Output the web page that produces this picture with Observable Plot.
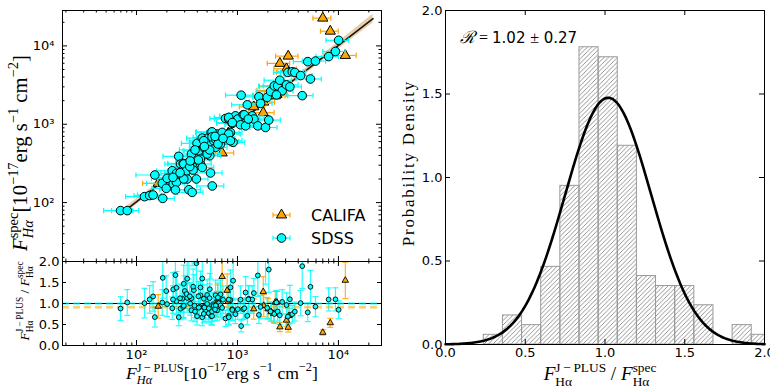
<!DOCTYPE html>
<html><head><meta charset="utf-8">
<script src="https://cdn.jsdelivr.net/npm/d3@7"></script>
<script src="https://cdn.jsdelivr.net/npm/@observablehq/plot@0.6"></script>
<style>
body{margin:0;background:#fff;}
#wrap{position:relative;width:770px;height:388px;overflow:hidden;}
#wrap svg{position:absolute;left:0;top:0;}
</style></head><body><div id="wrap"></div>
<script>
// ---------------- DATA ----------------
// SDSS galaxies: J-PLUS flux (x), spectroscopic flux (y), relative error
const sdssX = [69.5,81,120,135,146,182,152,180,201,197,226,231,249,262,273,284,290,301,318,330,356,318,350,370,376,398,392,423,430,448,464,482,501,520,532,549,541,563,576,606,629,653,679,705,762,820,852,889,906,954,1007,1072,1088,1141,1203,1252,1296,1400,1454,1591,1630,1692,1896,1969,2043,2127,2316,2500,2624,2771,3060,3158,3304,3488,3700,4220,4379,5282,4966,5920,8000,9340,10040,294,249,313,364,350,430,448,294,243,337,414,464,501,520,464,560,582,679,820,852,820,889,1170,1280,2430,380,410,560,610,640,530,470,600,230,270,340,720];
const sdssY = [79,79,119,123,125,113,225,176,204,152,255,173,181,389,311,255,316,232,200,146,135,281,311,281,397,570,200,459,311,666,417,587,506,678,397,786,239,163,587,506,750,649,713,786,1184,1165,786,1027,587,1280,1165,983,2348,1324,954,1770,1165,1280,1165,954,2239,1843,909,2202,1130,2621,3087,3087,3647,2672,3180,4585,3000,4677,4585,4180,2318,3780,6300,6400,7300,8500,11800,311,236,255,260,417,360,281,200,145,288,459,506,417,587,616,800,616,558,750,616,1220,1050,1320,1165,2370,470,350,690,640,560,470,520,700,210,240,340,660];
const sdssErr = [.32,.3,.35,.3,.3,.3,.35,.3,.3,.28,.3,.3,.28,.3,.3,.28,.3,.28,.3,.3,.28,.3,.3,.28,.3,.3,.3,.3,.28,.3,.3,.3,.28,.3,.28,.3,.3,.3,.28,.3,.3,.28,.3,.3,.3,.28,.3,.3,.3,.3,.28,.3,.3,.28,.3,.3,.28,.3,.28,.3,.28,.3,.3,.28,.3,.28,.3,.28,.3,.28,.3,.28,.3,.28,.28,.3,.28,.28,.28,.26,.25,.25,.25,.3,.3,.28,.3,.3,.28,.3,.3,.3,.28,.3,.28,.3,.3,.28,.3,.3,.28,.3,.3,.28,.3,.28,.3,.28,.3,.3,.3,.28,.3,.3,.28,.3,.3,.3,.28,.3];
// CALIFA galaxies
const califaX = [164,620,637,705,790,810,1450,1800,1820,2010,2160,2290,2370,2460,2630,3060,3180,3240,7000,8300,11700];
const califaY = [176,626,574,430,603,771,1667,1406,1916,2310,2700,3013,2300,2390,5980,5100,7400,4560,22600,15400,7550];
const califaErr = [.3,.3,.3,.3,.3,.28,.28,.28,.28,.28,.28,.28,.25,.25,.25,.25,.25,.25,.2,.2,.28];
// fit line and its uncertainty band (top panel)
const fitX = [80, 22000];
const fitY = [82, 22300];
const bandX = [80, 700, 22000];
const bandLo = [74, 685, 19600];
const bandHi = [90, 715, 25400];
// mean ratios (bottom panel dashed lines)
const sdssMeanRatio = 1.0;
const califaMeanRatio = 0.91;
// histogram of ratios (right panel)
const histLeft = [0.24,0.36,0.48,0.60,0.72,0.84,0.96,1.08,1.20,1.32,1.44,1.56,1.68,1.80,1.92];
const histDensity = [0.058,0.174,0.116,0.465,0.95,1.78,1.72,1.19,0.41,0.35,0.35,0.235,0,0.116,0.058];
const binWidth = 0.12;
const fitMu = 1.02, fitSigma = 0.27;
// ticks
const logTicks = [100, 1000, 10000];
const logTickLabels = ["10²", "10³", "10⁴"];
const ratioTicks = [0, 0.5, 1, 1.5, 2];
const ratioTickLabels = ["0.0", "0.5", "1.0", "1.5", "2.0"];

// ---------------- TABLES ----------------
const mk = (X, Y, E) => X.slice(0, Math.min(X.length, Y.length, E.length)).map((x, i) => {
  const y = Y[i], e = E[i], r = x / y;
  return {x, y, e, r, xlo: x * (1 - e), xhi: x * (1 + e), rlo: r * (1 - e), rhi: r * (1 + e)};
});
const sdss = mk(sdssX, sdssY, sdssErr);
const califa = mk(califaX, califaY, califaErr);
const fit = fitX.map((x, i) => ({x, y: fitY[i]}));
const band = bandX.map((x, i) => ({x, lo: bandLo[i], hi: bandHi[i]}));
const hist = histLeft.map((x1, i) => ({x1, x2: x1 + binWidth, d: histDensity[i]}));
const gauss = d3.range(0, 2.0001, 0.01).map(x => ({x, y: Math.exp(-0.5 * ((x - fitMu) / fitSigma) ** 2) / (fitSigma * Math.sqrt(2 * Math.PI))}));
const minorLog = [];
for (const dec of [10, 100, 1000, 10000]) for (const m of [2,3,4,5,6,7,8,9]) minorLog.push(m * dec);

// ---------------- LAYOUT ----------------
const W = 770, H = 388;
const TL = {l: 62, r: 381, t: 10, b: 261};
const BL = {l: 62, r: 381, t: 261, b: 345};
const RP = {l: 445, r: 764, t: 10, b: 344};
const margins = f => ({marginLeft: f.l, marginRight: W - f.r, marginTop: f.t, marginBottom: H - f.b});
const CYAN = "#00FFFF", ORANGE = "#FFA500";
const SANS = "DejaVu Sans";
const vCap = {draw(ctx, size){ const h = Math.sqrt(size / Math.PI); ctx.moveTo(0, -h); ctx.lineTo(0, h); }};
const hCap = {draw(ctx, size){ const h = Math.sqrt(size / Math.PI); ctx.moveTo(-h, 0); ctx.lineTo(h, 0); }};

function xTicks(values, len, f) {
  const fh = f.b - f.t;
  return [
    Plot.tickX(values, {x: d => d, insetTop: fh - len, stroke: "black"}),
    Plot.tickX(values, {x: d => d, insetBottom: fh - len, stroke: "black"})
  ];
}
function yTicks(values, len, f) {
  const fw = f.r - f.l;
  return [
    Plot.tickY(values, {y: d => d, insetRight: fw - len, stroke: "black"}),
    Plot.tickY(values, {y: d => d, insetLeft: fw - len, stroke: "black"})
  ];
}
const inDom = (lo, hi) => v => v > lo && v < hi;

const wrap = document.getElementById("wrap");

// ---------------- TOP-LEFT ----------------
const xDom = [18.5, 26700], yDom = [17.7, 28300];
function topErr(data, color) {
  return [
    Plot.ruleY(data, {y: "y", x1: "xlo", x2: "xhi", stroke: color, strokeWidth: 1.2}),
    Plot.dot(data, {x: "xlo", y: "y", symbol: vCap, r: 2.6, stroke: color, fill: "none", strokeWidth: 1.2}),
    Plot.dot(data, {x: "xhi", y: "y", symbol: vCap, r: 2.6, stroke: color, fill: "none", strokeWidth: 1.2})
  ];
}
const topPlot = Plot.plot({
  width: W, height: H, ...margins(TL),
  style: {background: "transparent", overflow: "visible"},
  x: {type: "log", domain: xDom, axis: null},
  y: {type: "log", domain: yDom, axis: null},
  marks: [
    Plot.areaY(band, {x: "x", y1: "lo", y2: "hi", fill: "#d9b47c", fillOpacity: 0.65}),
    Plot.line(fit, {x: "x", y: "y", stroke: "#1a1208", strokeWidth: 1.5}),
    ...topErr(califa, ORANGE),
    Plot.dot(califa, {x: "x", y: "y", symbol: "triangle", r: 3.8, fill: ORANGE, stroke: "black", strokeWidth: 1}),
    ...topErr(sdss, CYAN),
    Plot.dot(sdss, {x: "x", y: "y", r: 4.3, fill: CYAN, stroke: "black", strokeWidth: 1}),
    ...xTicks(logTicks, 5, TL), ...xTicks(minorLog.filter(inDom(...xDom)), 2.5, TL),
    ...yTicks(logTicks, 5, TL), ...yTicks(minorLog.filter(inDom(...yDom)), 2.5, TL),
    Plot.text(logTicks, {y: d => d, text: (d, i) => logTickLabels[i], frameAnchor: "left", textAnchor: "end", dx: -8, fontSize: 13, fontFamily: SANS, fill: "black"}),
    Plot.frame({stroke: "black"})
  ]
});
wrap.appendChild(topPlot);

// ---------------- BOTTOM-LEFT ----------------
function botErr(data, color) {
  return [
    Plot.ruleX(data, {x: "x", y1: "rlo", y2: "rhi", stroke: color, strokeWidth: 1.2, strokeOpacity: 0.85, clip: true}),
    Plot.dot(data, {x: "x", y: "rlo", symbol: hCap, r: 3, stroke: color, fill: "none", strokeWidth: 1.2, strokeOpacity: 0.85, clip: true}),
    Plot.dot(data, {x: "x", y: "rhi", symbol: hCap, r: 3, stroke: color, fill: "none", strokeWidth: 1.2, strokeOpacity: 0.85, clip: true})
  ];
}
const botPlot = Plot.plot({
  width: W, height: H, ...margins(BL),
  style: {background: "transparent", overflow: "visible"},
  x: {type: "log", domain: xDom, axis: null},
  y: {domain: [0, 2], axis: null},
  marks: [
    ...botErr(califa, ORANGE),
    ...botErr(sdss, CYAN),
    Plot.ruleY([1], {stroke: "black", strokeWidth: 1.2}),
    Plot.ruleY([califaMeanRatio], {stroke: ORANGE, strokeOpacity: 0.55, strokeWidth: 2.5, strokeDasharray: "7,4"}),
    Plot.ruleY([sdssMeanRatio], {stroke: CYAN, strokeOpacity: 0.6, strokeWidth: 2.5, strokeDasharray: "7,4"}),
    Plot.dot(califa, {x: "x", y: "r", symbol: "triangle", r: 2.4, fill: ORANGE, stroke: "black", strokeWidth: 0.9, clip: true}),
    Plot.dot(sdss, {x: "x", y: "r", r: 2.4, fill: CYAN, stroke: "black", strokeWidth: 0.9, clip: true}),
    ...xTicks(logTicks, 5, BL), ...xTicks(minorLog.filter(inDom(...xDom)), 2.5, BL),
    ...yTicks(ratioTicks, 4, BL),
    Plot.text(logTicks, {x: d => d, text: (d, i) => logTickLabels[i], frameAnchor: "bottom", lineAnchor: "top", dy: 4, fontSize: 13, fontFamily: SANS, fill: "black"}),
    Plot.text(ratioTicks, {y: d => d, text: (d, i) => ratioTickLabels[i], frameAnchor: "left", textAnchor: "end", dx: -3, fontSize: 13, fontFamily: SANS, fill: "black"}),
    Plot.frame({stroke: "black"})
  ]
});
wrap.appendChild(botPlot);

// ---------------- RIGHT ----------------
const rightPlot = Plot.plot({
  width: W, height: H, ...margins(RP),
  style: {background: "transparent", overflow: "visible"},
  x: {domain: [0, 2], axis: null},
  y: {domain: [0, 2], axis: null},
  marks: [
    Plot.rect(hist, {x1: "x1", x2: "x2", y1: () => 0, y2: "d", fill: "url(#hatch)", stroke: "#9a9a9a", strokeWidth: 1, clip: true}),
    Plot.line(gauss, {x: "x", y: "y", stroke: "black", strokeWidth: 2.6}),
    ...xTicks(ratioTicks, 5, RP),
    ...yTicks(ratioTicks, 5, RP),
    Plot.text(ratioTicks, {x: d => d, text: (d, i) => ratioTickLabels[i], frameAnchor: "bottom", lineAnchor: "top", dy: 3, fontSize: 13, fontFamily: SANS, fill: "black"}),
    Plot.text(ratioTicks, {y: d => d, text: (d, i) => ratioTickLabels[i], frameAnchor: "left", textAnchor: "end", dx: -3, fontSize: 13, fontFamily: SANS, fill: "black"}),
    Plot.frame({stroke: "black"})
  ]
});
wrap.appendChild(rightPlot);
const defs = d3.select(rightPlot).insert("defs", ":first-child");
const pat = defs.append("pattern").attr("id", "hatch").attr("patternUnits", "userSpaceOnUse").attr("width", 4.5).attr("height", 4.5);
pat.append("path").attr("d", "M-1,1 L1,-1 M0,4.5 L4.5,0 M3.5,5.5 L5.5,3.5").attr("stroke", "#7a7a7a").attr("stroke-width", 0.8);

// ---------------- OVERLAY: labels & legend ----------------
const ov = d3.select(wrap).append("svg").attr("width", W).attr("height", H);
const SERIF = "Liberation Serif, DejaVu Serif, serif";

// builds a label; if target is given, letter-spacing (spread) or size (fit) adjusts to reach that length
function mathLabel({x, y, rotate = 0, target, parts, size = 16, spread = false}) {
  function build(fs, ls) {
    const g = ov.append("g").attr("transform", `translate(${x},${y}) rotate(${rotate})`);
    const t = g.append("text").attr("text-anchor", "middle").attr("font-family", SERIF)
      .attr("font-size", fs).attr("letter-spacing", ls).style("white-space", "pre").attr("fill", "black");
    let base = 0, pend = 0;
    const supDy = -0.42 * fs, subDy = 0.3 * fs;
    for (const p of parts) {
      if (p.stack) {
        const sup = t.append("tspan").attr("font-size", 0.7 * fs).attr("dx", pend).attr("dy", supDy - base).text(p.sup);
        const supLen = sup.node().getComputedTextLength();
        const sub = t.append("tspan").attr("font-size", 0.7 * fs).attr("dx", -supLen).attr("dy", subDy - supDy).text(p.sub);
        if (p.subItalic) sub.attr("font-style", "italic");
        const subLen = sub.node().getComputedTextLength();
        base = subDy; pend = Math.max(0, supLen - subLen);
      } else if (p.sup) {
        t.append("tspan").attr("font-size", 0.7 * fs).attr("dx", pend).attr("dy", -0.45 * fs - base).text(p.sup);
        base = -0.45 * fs; pend = 0;
      } else {
        const s = t.append("tspan").attr("dx", pend).attr("dy", -base).text(p.t);
        if (p.i) s.attr("font-style", "italic");
        base = 0; pend = 0;
      }
    }
    return {g, t};
  }
  let {g, t} = build(size, 0);
  if (target) {
    const w = t.node().getBBox().width;
    g.remove();
    if (spread) {
      const n = parts.map(p => (p.t || "")).join("").length;
      build(size, (target - w) / Math.max(1, n - 1));
    } else {
      build(size * target / w, 0);
    }
  }
}
const fluxParts = which => [
  {t: "F", i: true}, {stack: true, sup: which, sub: "Hα", subItalic: true},
  {t: "[10"}, {sup: "−17"}, {t: "erg s"}, {sup: "−1"}, {t: " cm"}, {sup: "−2"}, {t: "]"}
];
const ratioParts = [
  {t: "F", i: true}, {stack: true, sup: "J\u2009−\u2009PLUS", sub: "Hα"}, {t: " / "},
  {t: "F", i: true}, {stack: true, sup: "spec", sub: "Hα"}
];
mathLabel({x: 27, y: 153, rotate: -90, target: 197, parts: fluxParts("spec")});
mathLabel({x: 222, y: 379, rotate: 0, target: 193, parts: fluxParts("J\u2009−\u2009PLUS")});
mathLabel({x: 29, y: 301, rotate: -90, target: 80, parts: ratioParts});
mathLabel({x: 600, y: 380, rotate: 0, target: 114, parts: ratioParts});
mathLabel({x: 414, y: 163, rotate: -90, target: 165, size: 17, spread: true, parts: [{t: "Probability Density"}]});

// R annotation
const rt = ov.append("text").attr("x", 460).attr("y", 43).attr("font-size", 15).attr("font-family", SANS).style("white-space", "pre").attr("fill", "black");
rt.append("tspan").attr("font-family", SERIF).attr("font-style", "italic").attr("font-size", 17).text("ℛ");
rt.append("tspan").attr("font-family", SERIF).attr("font-size", 16).text(" = ");
rt.append("tspan").text("1.02 ");
rt.append("tspan").attr("font-family", SERIF).attr("font-size", 16).text("±");
rt.append("tspan").text(" 0.27");

// legend
function legendItem(y, color, sym, label) {
  const lg = ov.append("g");
  lg.append("line").attr("x1", 273).attr("x2", 290).attr("y1", y).attr("y2", y).attr("stroke", color).attr("stroke-width", 1.2);
  for (const xx of [273, 290]) lg.append("line").attr("x1", xx).attr("x2", xx).attr("y1", y - 2.6).attr("y2", y + 2.6).attr("stroke", color).attr("stroke-width", 1.2);
  lg.append("path").attr("transform", `translate(281.5,${y})`).attr("d", d3.symbol(sym, Math.PI * (sym === d3.symbolTriangle ? 3.8 : 4.3) ** 2)())
    .attr("fill", color).attr("stroke", "black").attr("stroke-width", 1);
  lg.append("text").attr("x", 311).attr("y", y).attr("dy", "0.36em").attr("font-family", SANS).attr("font-size", 16).attr("fill", "black").text(label);
}
legendItem(215, ORANGE, d3.symbolTriangle, "CALIFA");
legendItem(238, CYAN, d3.symbolCircle, "SDSS");
</script></body></html>
